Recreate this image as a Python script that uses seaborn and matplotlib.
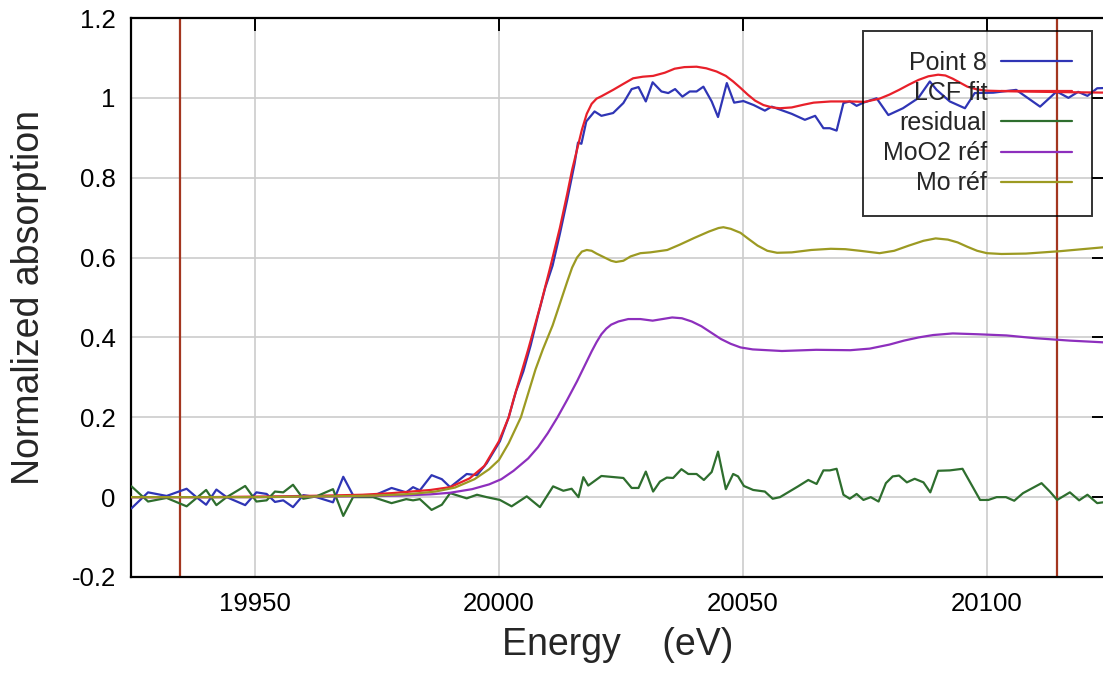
import numpy as np
import pandas as pd
import matplotlib
matplotlib.use("Agg")
import matplotlib.pyplot as plt
import seaborn as sns
from matplotlib.ticker import FixedLocator, FixedFormatter

# ---------------- data ----------------
e_point8 = [19924.7, 19928.1, 19931.9, 19936.0, 19938.0, 19940.0, 19942.1, 19944.2, 19948.0, 19950.3,
            19952.4, 19954.1, 19955.8, 19957.8, 19959.9, 19962.6, 19966.0, 19968.1, 19970.1, 19974.2,
            19978.0, 19981.0, 19982.4, 19983.8, 19986.2, 19988.3, 19990.0, 19993.4, 19995.5, 19997.5,
            20000.2, 20002.0, 20003.5, 20005.0, 20006.5, 20008.0, 20009.5, 20011.0, 20012.5, 20014.0,
            20015.5, 20016.2, 20016.9, 20017.9, 20019.6, 20021.0, 20023.4, 20025.5, 20027.2, 20028.6,
            20030.1, 20031.5, 20033.3, 20034.7, 20036.1, 20037.6, 20039.1, 20040.5, 20041.9, 20043.6,
            20044.9, 20046.7, 20048.2, 20050.1, 20052.2, 20054.5, 20055.9, 20060.0, 20062.7, 20064.8,
            20066.5, 20067.8, 20069.2, 20070.6, 20071.9, 20073.3, 20074.7, 20077.4, 20079.8, 20082.8,
            20085.9, 20088.3, 20089.7, 20092.4, 20095.5, 20097.5, 20101.3, 20106.0, 20110.9, 20114.3,
            20116.7, 20118.7, 20120.6, 20122.6, 20125.0]
point8 = [-0.028, 0.012, 0.003, 0.021, 0.000, -0.019, 0.019, 0.000, -0.020, 0.012,
          0.008, -0.012, -0.008, -0.025, 0.005, 0.000, -0.013, 0.051, 0.005, 0.003,
          0.023, 0.012, 0.025, 0.017, 0.055, 0.045, 0.025, 0.058, 0.055, 0.085,
          0.140, 0.200, 0.265, 0.315, 0.380, 0.455, 0.525, 0.580, 0.660, 0.745,
          0.835, 0.888, 0.885, 0.941, 0.966, 0.955, 0.962, 0.987, 1.022, 1.027,
          0.991, 1.039, 1.016, 1.012, 1.022, 1.003, 1.016, 1.016, 1.028, 0.991,
          0.952, 1.037, 0.988, 0.992, 0.982, 0.968, 0.978, 0.960, 0.945, 0.955,
          0.924, 0.924, 0.918, 0.987, 0.991, 0.980, 0.988, 0.999, 0.957, 0.974,
          0.999, 1.041, 1.020, 0.991, 0.974, 1.012, 1.013, 1.020, 0.978, 1.016,
          1.000, 1.015, 1.005, 1.024, 1.025]

e_fit = [19924, 19940, 19955, 19965, 19972, 19978, 19982, 19986, 19990, 19994,
         19997, 20000, 20002, 20003, 20006, 20008.5, 20010.5, 20012.5, 20014, 20015,
         20016, 20017, 20018, 20019, 20020, 20021, 20023.4, 20025.5, 20027.5, 20029.5,
         20031.6, 20034, 20036, 20038, 20040.5, 20042.5, 20044.6, 20046.5, 20048, 20049.5,
         20051, 20052.5, 20054.2, 20056, 20057.6, 20060, 20062.5, 20064.5, 20068, 20072,
         20075, 20078, 20080, 20082, 20084, 20086, 20088, 20090, 20091.5, 20093,
         20094.5, 20096, 20098, 20100, 20103, 20107, 20112, 20118, 20125]
lcf_fit = [0.000, 0.000, 0.002, 0.004, 0.006, 0.010, 0.014, 0.018, 0.025, 0.047,
           0.078, 0.140, 0.200, 0.245, 0.370, 0.480, 0.575, 0.675, 0.760, 0.820,
           0.870, 0.920, 0.960, 0.985, 0.998, 1.004, 1.020, 1.035, 1.049, 1.053,
           1.055, 1.063, 1.073, 1.077, 1.078, 1.074, 1.066, 1.055, 1.041, 1.025,
           1.008, 0.993, 0.982, 0.976, 0.974, 0.976, 0.983, 0.988, 0.991, 0.991,
           0.990, 0.998, 1.008, 1.020, 1.033, 1.045, 1.054, 1.058, 1.056, 1.048,
           1.038, 1.028, 1.021, 1.018, 1.017, 1.016, 1.015, 1.014, 1.013]

e_resid = [19924.7, 19928.1, 19931.9, 19936.0, 19940.0, 19942.1, 19944.2, 19948.0, 19950.3, 19952.4,
           19954.1, 19955.8, 19957.8, 19959.9, 19962.6, 19966.0, 19968.1, 19970.1, 19974.2, 19978.0,
           19981.0, 19982.4, 19983.8, 19986.2, 19988.3, 19990.0, 19993.4, 19995.5, 19997.5, 20000.2,
           20002.6, 20005.7, 20008.4, 20011.1, 20013.2, 20014.9, 20016.3, 20017.3, 20018.3, 20021.0,
           20025.5, 20027.2, 20028.6, 20030.1, 20031.6, 20033.0, 20034.4, 20035.7, 20037.4, 20038.8,
           20040.5, 20042.0, 20043.6, 20044.9, 20046.5, 20048.0, 20049.0, 20050.2, 20052.1, 20054.5,
           20056.1, 20057.6, 20061.3, 20063.4, 20065.1, 20066.5, 20067.8, 20069.2, 20070.6, 20071.9,
           20073.3, 20074.7, 20076.2, 20077.8, 20079.3, 20080.7, 20082.0, 20083.6, 20085.2, 20087.0,
           20088.4, 20090.0, 20092.4, 20095.0, 20098.6, 20100.3, 20102.0, 20103.9, 20105.6, 20107.4,
           20111.2, 20112.9, 20114.4, 20117.0, 20118.9, 20120.6, 20122.6, 20125.0]
residual = [0.027, -0.011, -0.002, -0.023, 0.018, -0.020, 0.000, 0.028, -0.011, -0.008,
            0.014, 0.012, 0.031, -0.004, 0.002, 0.020, -0.047, 0.000, 0.000, -0.015,
            -0.005, -0.008, -0.005, -0.032, -0.019, 0.010, -0.003, 0.006, 0.000, -0.007,
            -0.023, 0.002, -0.025, 0.027, 0.016, 0.021, 0.000, 0.050, 0.029, 0.053,
            0.048, 0.023, 0.023, 0.064, 0.014, 0.039, 0.049, 0.048, 0.070, 0.058,
            0.058, 0.043, 0.063, 0.114, 0.020, 0.058, 0.052, 0.028, 0.018, 0.014,
            -0.004, 0.000, 0.027, 0.043, 0.033, 0.067, 0.067, 0.071, 0.006, -0.004,
            0.008, -0.007, 0.000, -0.011, 0.035, 0.052, 0.054, 0.037, 0.046, 0.037,
            0.012, 0.066, 0.067, 0.071, -0.007, -0.007, 0.000, 0.000, -0.009, 0.010,
            0.035, 0.014, -0.007, 0.012, -0.008, 0.006, -0.015, -0.011]

e_moo2 = [19924, 19950, 19970, 19980, 19986, 19990, 19994.5, 19998, 20000.5, 20003,
          20006, 20008, 20010, 20012, 20014, 20016, 20017, 20018, 20019, 20020,
          20021, 20022, 20023, 20024.5, 20026.5, 20029, 20031.5, 20033.5, 20035.5, 20037.5,
          20039.5, 20041.5, 20043.5, 20045.5, 20047.5, 20049.5, 20052, 20058, 20065, 20072,
          20076, 20080, 20083, 20086, 20089, 20093, 20098, 20104, 20110, 20117, 20125]
moo2_ref = [0.000, 0.000, 0.002, 0.004, 0.007, 0.011, 0.020, 0.032, 0.045, 0.066,
            0.097, 0.125, 0.160, 0.200, 0.244, 0.290, 0.315, 0.340, 0.365, 0.388,
            0.408, 0.422, 0.432, 0.440, 0.446, 0.446, 0.442, 0.446, 0.450, 0.448,
            0.440, 0.428, 0.412, 0.396, 0.384, 0.375, 0.370, 0.366, 0.369, 0.368,
            0.372, 0.382, 0.392, 0.400, 0.406, 0.410, 0.408, 0.405, 0.398, 0.392, 0.387]

e_mo = [19924, 19950, 19965, 19975, 19982, 19987, 19991, 19995, 19998, 20000,
        20002, 20004.5, 20006, 20007.5, 20009, 20011, 20012.5, 20014, 20015, 20016,
        20017, 20018, 20019, 20020, 20021.5, 20023, 20024, 20025.5, 20027, 20029,
        20031, 20034.5, 20037, 20040, 20043, 20045, 20046, 20047.5, 20049.5, 20051,
        20053, 20055, 20057, 20060, 20064, 20068, 20071, 20074, 20078, 20081,
        20084, 20087, 20089.5, 20092, 20094, 20096, 20098, 20100, 20103, 20108,
        20115, 20125]
mo_ref = [0.000, 0.000, 0.002, 0.004, 0.008, 0.014, 0.024, 0.045, 0.070, 0.093,
          0.135, 0.200, 0.260, 0.320, 0.370, 0.430, 0.485, 0.540, 0.575, 0.600,
          0.615, 0.619, 0.617, 0.610, 0.601, 0.592, 0.589, 0.592, 0.603, 0.611,
          0.613, 0.619, 0.632, 0.649, 0.665, 0.674, 0.676, 0.672, 0.662, 0.648,
          0.630, 0.617, 0.612, 0.613, 0.619, 0.622, 0.621, 0.617, 0.611, 0.617,
          0.630, 0.642, 0.648, 0.645, 0.638, 0.627, 0.617, 0.611, 0.609, 0.610,
          0.616, 0.627]

roi_bounds = [19934.7, 20114.4]

series_labels = ["Point 8", "LCF fit", "residual", "MoO2 réf", "Mo réf"]
series_colors = ["#2f35b5", "#e8202a", "#2e6e2e", "#8d2fbd", "#9c9a22"]

xticks = [19950, 20000, 20050, 20100]
xtick_labels = ["19950", "20000", "20050", "20100"]
yticks = [-0.2, 0, 0.2, 0.4, 0.6, 0.8, 1.0, 1.2]
ytick_labels = ["-0.2", "0", "0.2", "0.4", "0.6", "0.8", "1", "1.2"]

# ---------------- style ----------------
sns.set_style("white")
plt.rcParams["font.family"] = ["Liberation Sans", "DejaVu Sans"]
plt.rcParams["axes.unicode_minus"] = False

fig = plt.figure(figsize=(11.03, 6.74), dpi=100)
ax = fig.add_axes([131 / 1103, (674 - 577) / 674, (1104.5 - 131) / 1103, (577 - 18) / 674])

for x in roi_bounds:
    ax.axvline(x, color="#a3361f", lw=1.6, zorder=1)

datasets = [(e_point8, point8), (e_fit, lcf_fit), (e_resid, residual), (e_moo2, moo2_ref), (e_mo, mo_ref)]
for (ex, ey), lab, col in zip(datasets, series_labels, series_colors):
    df = pd.DataFrame({"Energy": ex, "value": ey})
    sns.lineplot(data=df, x="Energy", y="value", ax=ax, color=col, lw=1.6,
                 label=lab, estimator=None, sort=False, zorder=3)

ax.set_xlim(19924.6, 20124.1)
ax.set_ylim(-0.2, 1.2)
ax.xaxis.set_major_locator(FixedLocator(xticks))
ax.xaxis.set_major_formatter(FixedFormatter(xtick_labels))
ax.yaxis.set_major_locator(FixedLocator(yticks))
ax.yaxis.set_major_formatter(FixedFormatter(ytick_labels))

ax.grid(True, color="#cccccc", lw=1.2, zorder=0)
ax.set_axisbelow(True)
for sp in ax.spines.values():
    sp.set_color("black")
    sp.set_linewidth(1.6)
    sp.set_visible(True)

ax.tick_params(axis="both", which="major", direction="in", length=9.5, width=1.4,
               top=True, right=True, labelsize=18.5, pad=11, colors="black")

ax.set_xlabel("Energy    (eV)", fontsize=27)
ax.set_ylabel("Normalized absorption", fontsize=27)
ax.xaxis.set_label_coords(0.5, -0.09)
ax.yaxis.set_label_coords(-0.0863, 0.5)

leg = ax.legend(loc="upper right", markerfirst=False, frameon=True, fancybox=False,
                edgecolor="black", facecolor="none", framealpha=None, fontsize=18,
                handlelength=2.85, handletextpad=0.55, labelspacing=0.25,
                borderpad=0.8, borderaxespad=0.5)
leg.get_frame().set_linewidth(1.4)
for line in leg.get_lines():
    line.set_linewidth(1.6)

fig.savefig("out.png", dpi=100)
